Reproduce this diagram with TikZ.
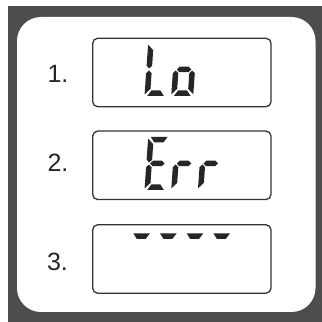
\documentclass[tikz,border=0pt]{standalone}
\usepackage{fontspec}
\setmainfont{Liberation Sans}
\definecolor{framegray}{HTML}{4D4D4D}
\definecolor{segdark}{HTML}{262626}
\definecolor{boxline}{HTML}{333333}
\tikzset{
  lcd/.style={draw=boxline, line width=1.3pt, rounded corners=5pt, fill=white, minimum width=178.3pt, minimum height=68.4pt, inner sep=0pt},
  numlabel/.style={inner sep=0pt, font=\fontsize{25}{25}\selectfont, text=black!85},
  seg/.style={fill=segdark}
}
\newcommand{\sgA}{\fill[seg] (2.65,53) -- (19.35,53) -- (15.5,47.5) -- (6.5,47.5) -- cycle;}
\newcommand{\sgB}{\fill[seg] (22,51.35) -- (16.5,45.85) -- (16.5,30.25) -- (19.25,27.5) -- (22,30.25) -- cycle;}
\newcommand{\sgC}{\fill[seg] (22,1.65) -- (16.5,7.15) -- (16.5,22.75) -- (19.25,25.5) -- (22,22.75) -- cycle;}
\newcommand{\sgD}{\fill[seg] (2.65,0) -- (19.35,0) -- (15.5,5.5) -- (6.5,5.5) -- cycle;}
\newcommand{\sgE}{\fill[seg] (0,1.65) -- (5.5,7.15) -- (5.5,22.75) -- (2.75,25.5) -- (0,22.75) -- cycle;}
\newcommand{\sgF}{\fill[seg] (0,51.35) -- (5.5,45.85) -- (5.5,30.25) -- (2.75,27.5) -- (0,30.25) -- cycle;}
\newcommand{\sgG}{\fill[seg] (3.75,26.5) -- (6.5,29.25) -- (15.5,29.25) -- (18.25,26.5) -- (15.5,23.75) -- (6.5,23.75) -- cycle;}
\begin{document}
\begin{tikzpicture}[x=1pt,y=1pt]
\useasboundingbox (0,0) rectangle (322,322);
\fill[white] (0,0) rectangle (322,322);
\fill[framegray] (8,0) rectangle (322,316);
\fill[white, rounded corners=24pt] (17,10) rectangle (315.5,305);
% displays
\node[lcd] (box1) at (181.85,249.5) {};
\node[lcd] (box2) at (181.85,156.7) {};
\node[lcd] (box3) at (181.85,63) {};
% labels
\node[numlabel] (lab1) at (58,248) {1.};
\node[numlabel] (lab2) at (58,159.5) {2.};
\node[numlabel] (lab3) at (57.5,60.5) {3.};
% "Lo"
\begin{scope}[shift={(144.5,226)}, xslant=0.07] \sgF \sgE \sgD \end{scope}
\begin{scope}[shift={(171.2,226)}, xslant=0.07] \sgG \sgE \sgC \sgD \end{scope}
% "Err"
\begin{scope}[shift={(144.5,132)}, xslant=0.07] \sgA \sgF \sgG \sgE \sgD \end{scope}
\begin{scope}[shift={(171.2,132)}, xslant=0.07] \sgG \sgE \end{scope}
\begin{scope}[shift={(197.9,132)}, xslant=0.07] \sgG \sgE \end{scope}
% "----"
\foreach \xx in {126.9,153.6,180.3,207.0} {
  \begin{scope}[shift={(\xx,35.7)}, xslant=0.07] \sgA \end{scope}
}
\end{tikzpicture}
\end{document}
